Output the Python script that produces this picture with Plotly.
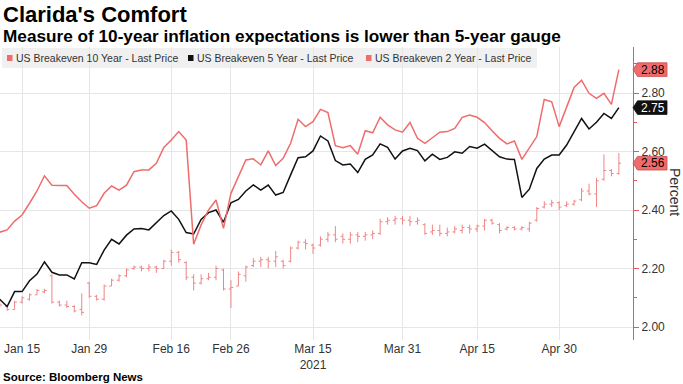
import plotly.graph_objects as go

# ---------------- data ----------------
trade_days = {
    1: [12, 13, 14, 15, 19, 20, 21, 22, 25, 26, 27, 28, 29],
    2: [1, 2, 3, 4, 5, 8, 9, 10, 11, 12, 16, 17, 18, 19, 22, 23, 24, 25, 26],
    3: [1, 2, 3, 4, 5, 8, 9, 10, 11, 12, 15, 16, 17, 18, 19, 22, 23, 24, 25, 26, 29, 30, 31],
    4: [1, 5, 6, 7, 8, 9, 12, 13, 14, 15, 16, 19, 20, 21, 22, 23, 26, 27, 28, 29, 30],
    5: [3, 4, 5, 6, 7, 10, 11, 12],
}
dates = [f"2021-{m:02d}-{d:02d}" for m, ds in trade_days.items() for d in ds]
holidays = ["2021-01-18", "2021-02-15", "2021-04-02"]

be2_last = [2.324, 2.332, 2.362, 2.383, 2.423, 2.465, 2.517, 2.485, 2.484, 2.484,
            2.454, 2.428, 2.406, 2.415, 2.457, 2.482, 2.468, 2.485, 2.531, 2.537,
            2.537, 2.560, 2.614, 2.639, 2.668, 2.639, 2.283, 2.349, 2.400, 2.434,
            2.337, 2.457, 2.514, 2.571, 2.575, 2.554, 2.602, 2.552, 2.577, 2.628,
            2.710, 2.685, 2.702, 2.744, 2.733, 2.620, 2.613, 2.620, 2.591, 2.671,
            2.664, 2.717, 2.691, 2.674, 2.666, 2.699, 2.645, 2.628, 2.647, 2.666,
            2.668, 2.679, 2.717, 2.725, 2.717, 2.699, 2.671, 2.645, 2.626, 2.636,
            2.573, 2.611, 2.651, 2.778, 2.770, 2.685, 2.753, 2.819, 2.844, 2.799,
            2.782, 2.799, 2.761, 2.88]

be5_last = [2.095, 2.070, 2.121, 2.121, 2.158, 2.181, 2.223, 2.187, 2.178, 2.178,
            2.164, 2.220, 2.220, 2.214, 2.263, 2.300, 2.284, 2.314, 2.335, 2.337,
            2.332, 2.358, 2.381, 2.397, 2.368, 2.323, 2.318, 2.368, 2.391, 2.400,
            2.358, 2.425, 2.436, 2.465, 2.486, 2.468, 2.485, 2.451, 2.460, 2.520,
            2.579, 2.582, 2.602, 2.653, 2.636, 2.569, 2.554, 2.557, 2.528, 2.573,
            2.588, 2.626, 2.614, 2.574, 2.602, 2.611, 2.603, 2.568, 2.591, 2.573,
            2.580, 2.599, 2.594, 2.617, 2.611, 2.625, 2.603, 2.582, 2.574, 2.573,
            2.443, 2.471, 2.542, 2.574, 2.588, 2.588, 2.622, 2.670, 2.713, 2.677,
            2.700, 2.730, 2.713, 2.75]

be10_open = [2.090, 2.070, 2.060, 2.085, 2.095, 2.110, 2.120, 2.175, 2.085, 2.075,
             2.070, 2.060, 2.150, 2.105, 2.095, 2.140, 2.160, 2.175, 2.200, 2.205,
             2.200, 2.205, 2.200, 2.225, 2.255, 2.220, 2.170, 2.150, 2.165, 2.170,
             2.195, 2.130, 2.140, 2.175, 2.210, 2.225, 2.230, 2.225, 2.225, 2.225,
             2.270, 2.290, 2.280, 2.280, 2.300, 2.315, 2.310, 2.300, 2.315, 2.310,
             2.315, 2.320, 2.360, 2.365, 2.370, 2.365, 2.360, 2.350, 2.325, 2.330,
             2.320, 2.325, 2.330, 2.340, 2.335, 2.345, 2.365, 2.350, 2.335, 2.340,
             2.335, 2.335, 2.365, 2.410, 2.420, 2.425, 2.415, 2.420, 2.435, 2.465,
             2.455, 2.505, 2.535, 2.525]
be10_high = [2.095, 2.075, 2.090, 2.105, 2.115, 2.130, 2.130, 2.180, 2.090, 2.090,
             2.075, 2.115, 2.155, 2.110, 2.145, 2.165, 2.180, 2.200, 2.210, 2.210,
             2.215, 2.210, 2.230, 2.265, 2.260, 2.225, 2.180, 2.180, 2.185, 2.210,
             2.200, 2.160, 2.190, 2.210, 2.235, 2.240, 2.240, 2.260, 2.230, 2.275,
             2.295, 2.300, 2.285, 2.310, 2.325, 2.345, 2.320, 2.325, 2.325, 2.325,
             2.330, 2.370, 2.375, 2.380, 2.380, 2.380, 2.375, 2.355, 2.350, 2.350,
             2.340, 2.345, 2.350, 2.350, 2.350, 2.370, 2.370, 2.355, 2.345, 2.345,
             2.345, 2.360, 2.410, 2.430, 2.435, 2.430, 2.430, 2.435, 2.475, 2.490,
             2.510, 2.590, 2.540, 2.595]
be10_low = [2.065, 2.055, 2.060, 2.080, 2.090, 2.110, 2.115, 2.080, 2.070, 2.065,
            2.050, 2.040, 2.100, 2.090, 2.090, 2.140, 2.155, 2.170, 2.195, 2.190,
            2.190, 2.185, 2.200, 2.210, 2.220, 2.160, 2.125, 2.145, 2.160, 2.160,
            2.125, 2.065, 2.140, 2.155, 2.205, 2.205, 2.200, 2.205, 2.200, 2.220,
            2.265, 2.265, 2.250, 2.275, 2.290, 2.290, 2.285, 2.285, 2.290, 2.295,
            2.300, 2.315, 2.350, 2.350, 2.350, 2.345, 2.350, 2.315, 2.315, 2.310,
            2.310, 2.320, 2.320, 2.320, 2.325, 2.330, 2.350, 2.320, 2.330, 2.330,
            2.330, 2.325, 2.360, 2.405, 2.410, 2.400, 2.410, 2.415, 2.430, 2.450,
            2.410, 2.500, 2.515, 2.520]
be10_close = [2.075, 2.060, 2.085, 2.100, 2.110, 2.125, 2.125, 2.085, 2.075, 2.070,
              2.055, 2.050, 2.105, 2.095, 2.140, 2.160, 2.175, 2.195, 2.205, 2.200,
              2.205, 2.200, 2.225, 2.255, 2.230, 2.170, 2.150, 2.165, 2.170, 2.200,
              2.130, 2.135, 2.180, 2.205, 2.225, 2.230, 2.225, 2.240, 2.210, 2.270,
              2.290, 2.285, 2.270, 2.300, 2.315, 2.300, 2.300, 2.315, 2.310, 2.315,
              2.320, 2.360, 2.365, 2.370, 2.365, 2.360, 2.365, 2.320, 2.330, 2.320,
              2.325, 2.335, 2.340, 2.335, 2.345, 2.365, 2.355, 2.330, 2.340, 2.335,
              2.340, 2.355, 2.405, 2.420, 2.425, 2.410, 2.420, 2.430, 2.465, 2.455,
              2.500, 2.535, 2.525, 2.56]

tick_dates = ["2021-01-15", "2021-01-29", "2021-02-16", "2021-02-26",
              "2021-03-15", "2021-03-31", "2021-04-15", "2021-04-30"]
tick_text = ["Jan 15", "Jan 29", "Feb 16", "Feb 26", "Mar 15<br>2021",
             "Mar 31", "Apr 15", "Apr 30"]

legend_names = ["US Breakeven 10 Year - Last Price",
                "US Breakeven 5 Year - Last Price",
                "US Breakeven 2 Year - Last Price"]

# ---------------- style ----------------
RED = "#ef6c6c"
BAR = "#f08585"
BLACK = "#111111"
AXIS_RED = "#e8585a"
GRID = "#e6e6e6"
TXT = "#333333"
FONT = "Liberation Sans"

W, H = 683, 384
ML, MR, MT, MB = 0, 50, 47, 44
PW = W - ML - MR
PH = H - MT - MB


def px(x):
    return (x - ML) / PW


def py(y):
    return (H - MB - y) / PH


fig = go.Figure()
fig.add_trace(go.Ohlc(
    x=dates, open=be10_open, high=be10_high, low=be10_low, close=be10_close,
    increasing=dict(line=dict(color=BAR, width=1)),
    decreasing=dict(line=dict(color=BAR, width=1)),
    tickwidth=0.3, name=legend_names[0], showlegend=False, hoverinfo="skip"))
fig.add_trace(go.Scatter(x=dates, y=be5_last, mode="lines", name=legend_names[1],
                         line=dict(color=BLACK, width=1.5), showlegend=False))
fig.add_trace(go.Scatter(x=dates, y=be2_last, mode="lines", name=legend_names[2],
                         line=dict(color=RED, width=1.5), showlegend=False))

y0v = 2 - 13 / 292.5
y1v = 2 + (327 - MT) / 292.5

fig.update_xaxes(
    type="date",
    rangebreaks=[dict(bounds=["sat", "mon"]), dict(values=holidays)],
    range=["2021-01-12 01:00", "2021-05-13 21:30"],
    tickmode="array", tickvals=tick_dates, ticktext=tick_text,
    showgrid=True, gridcolor=GRID, gridwidth=1,
    ticks="", showline=False, zeroline=False,
    tickfont=dict(family=FONT, size=12, color=TXT),
    rangeslider=dict(visible=False), fixedrange=True,
)
fig.update_yaxes(
    side="right", range=[y0v, y1v], tick0=2.0, dtick=0.2, tickformat=".2f",
    showgrid=True, gridcolor=GRID, gridwidth=1, zeroline=False,
    showline=True, linecolor=AXIS_RED, linewidth=1,
    ticks="outside", ticklen=5, tickcolor=AXIS_RED, tickwidth=1,
    minor=dict(dtick=0.1, tick0=2.0, ticks="outside", ticklen=3,
               tickcolor=AXIS_RED, showgrid=False),
    tickfont=dict(family=FONT, size=12, color=TXT), fixedrange=True,
)

shapes = []
annotations = []

# title / subtitle / source
annotations.append(dict(text="<b>Clarida's Comfort</b>", xref="paper", yref="paper",
                        x=px(1), y=py(15), xanchor="left", yanchor="middle",
                        showarrow=False, font=dict(family=FONT, size=22, color="#000")))
annotations.append(dict(text="<b>Measure of 10-year inflation expectations is lower than 5-year gauge</b>",
                        xref="paper", yref="paper", x=px(1), y=py(36),
                        xanchor="left", yanchor="middle", showarrow=False,
                        font=dict(family=FONT, size=17.2, color="#000")))
annotations.append(dict(text="<b>Source: Bloomberg News</b>", xref="paper", yref="paper",
                        x=px(1), y=py(377), xanchor="left", yanchor="middle",
                        showarrow=False, font=dict(family=FONT, size=11.5, color="#000")))
annotations.append(dict(text="Percent", xref="paper", yref="paper", x=px(675), y=py(192),
                        xanchor="center", yanchor="middle", textangle=90, showarrow=False,
                        font=dict(family=FONT, size=14, color=TXT)))

# legend (manual)
shapes.append(dict(type="rect", xref="paper", yref="paper", x0=px(2), x1=px(537),
                   y0=py(68), y1=py(48), fillcolor="rgba(238,238,238,0.9)",
                   line=dict(width=0), layer="below"))
leg_sq_x = [7, 188, 366]
leg_tx_x = [14, 195, 373]
leg_cols = [RED, BLACK, RED]
for sx, tx, col, name in zip(leg_sq_x, leg_tx_x, leg_cols, legend_names):
    shapes.append(dict(type="rect", xref="paper", yref="paper", x0=px(sx), x1=px(sx + 5.5),
                       y0=py(61), y1=py(55), fillcolor=col, line=dict(width=0)))
    annotations.append(dict(text=name, xref="paper", yref="paper", x=px(tx), y=py(58),
                            xanchor="left", yanchor="middle", showarrow=False,
                            font=dict(family=FONT, size=10.5, color=TXT)))

# last-value labels on right axis
half = 6.8 / 292.5
labels = [(be2_last[-1], RED, "#000"), (be5_last[-1], BLACK, "#fff"), (be10_close[-1], RED, "#000")]
for v, fill, tcol in labels:
    path = (f"M {px(633)},{v} L {px(637.5)},{v + half} L {px(667)},{v + half} "
            f"L {px(667)},{v - half} L {px(637.5)},{v - half} Z")
    shapes.append(dict(type="path", xref="paper", yref="y", path=path,
                       fillcolor=fill, line=dict(color="#c84a4a" if fill == RED else BLACK, width=0.8)))
    annotations.append(dict(text=f"{v:.2f}", xref="paper", yref="y", x=px(652.5), y=v,
                            xanchor="center", yanchor="middle", showarrow=False,
                            font=dict(family=FONT, size=12, color=tcol)))

fig.update_layout(
    width=W, height=H, margin=dict(l=ML, r=MR, t=MT, b=MB),
    paper_bgcolor="white", plot_bgcolor="white", showlegend=False,
    font=dict(family=FONT, color=TXT),
    shapes=shapes, annotations=annotations,
)

fig.write_html("out.html", config={"displayModeBar": False},
               post_script="document.body.style.margin='0';document.body.style.padding='0';")
